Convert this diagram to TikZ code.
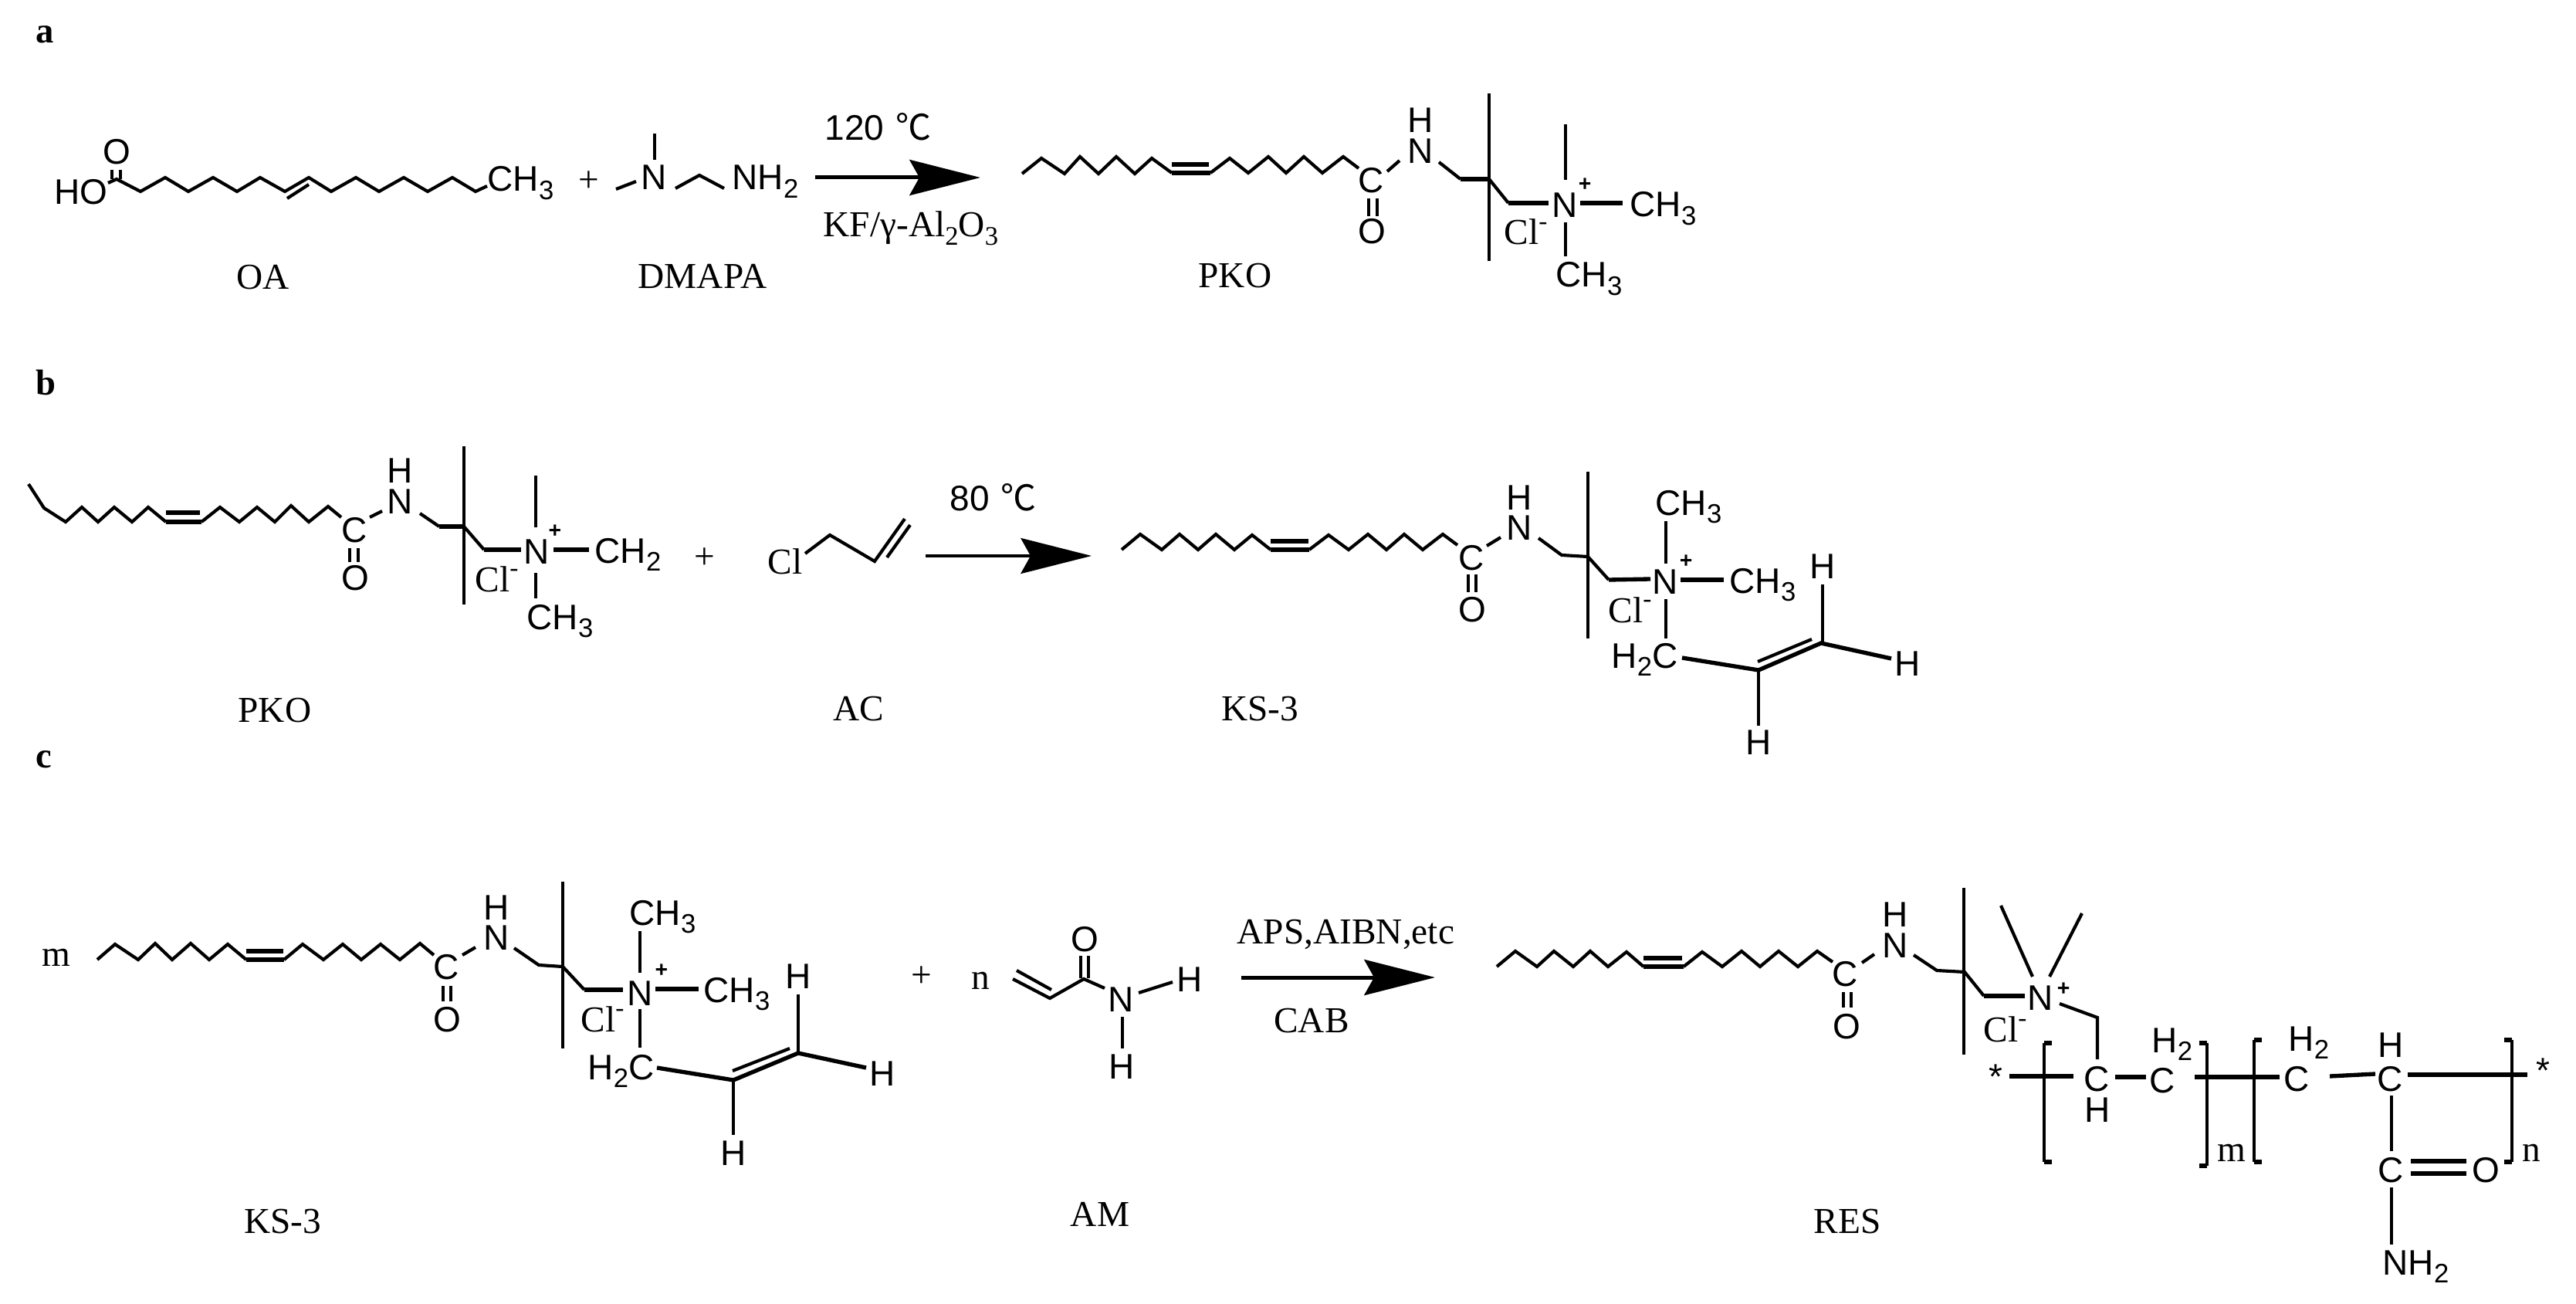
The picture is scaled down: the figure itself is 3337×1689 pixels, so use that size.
\documentclass[tikz,border=0pt]{standalone}
\usepackage{fontspec}
\usetikzlibrary{arrows.meta}
\setmainfont{Liberation Serif}
\setsansfont{Liberation Sans}
\newfontfamily\cjkf{Noto Sans CJK SC}
\newcommand{\dn}[1]{\raisebox{-0.22em}{\fontsize{10.4}{10}\selectfont #1}}
\newcommand{\up}[1]{\raisebox{0.42em}{\fontsize{10}{10}\selectfont #1}}
\newcommand{\dgc}{{\cjkf ℃}}
\tikzset{
 bond/.style={line width=1.25pt,black},
 hbond/.style={line width=1.6pt,black},
 thinb/.style={line width=0.95pt,black},
 atom/.style={font=\sffamily\fontsize{13.8}{14}\selectfont,anchor=base,inner sep=0pt,black},
 atoml/.style={atom,anchor=base west},
 lab/.style={font=\rmfamily\fontsize{14.2}{14}\selectfont,anchor=base,inner sep=0pt,black},
 labl/.style={lab,anchor=base west},
 panel/.style={font=\rmfamily\bfseries\fontsize{14}{14}\selectfont,anchor=base west,inner sep=0pt,black},
 plusb/.style={font=\sffamily\bfseries\fontsize{8.5}{9}\selectfont,anchor=center,inner sep=0pt,black},
 react/.style={line width=1.5pt,-{Stealth[length=27.5pt,width=13.8pt,inset=3.8pt]}},
 reactb/.style={line width=1.1pt,-{Stealth[length=27.5pt,width=13.8pt,inset=3.8pt]}},
}
\begin{document}
\begin{tikzpicture}[x=0.3pt,y=-0.3pt]
\useasboundingbox (0,0) rectangle (3337,1689);
% ---------- panel a
\node[panel] (pa) at (46,56) {a};
\node[atoml] (aHO) at (70,265) {HO};
\node[atom] (aO1) at (151,213) {O};
\node[atoml] (aCH3) at (631,248) {CH\dn{3}};
\node[lab] (aplus) at (763,249) {+};
\node[atom] (aN1) at (847,246) {N};
\node[atoml] (aNH2) at (948,246) {NH\dn{2}};
\node[lab] (aOA) at (341,375) {OA};
\node[lab] (aDM) at (910,374) {DMAPA};
\draw[bond] (140,237)--(151,232)--(182,248)--(214,230)--(244,248)--(276,230)--(307,248)--(337,230)--(369,248)--(400,230)--(429,248)--(461,230)--(491,248)--(523,230)--(554,248)--(586,230)--(616,248)--(631,241);
\draw[bond] (372,257)--(400,239);
\draw[bond] (145,232)--(145,220) (156,232)--(156,220);
\draw[bond] (798,245)--(824,235);
\draw[thinb] (848,173)--(848,207);
\draw[bond] (875,244)--(906,227)--(938,244);
\coordinate (aA1) at (1056,230); \coordinate (aA2) at (1270,230);
\draw[react] (aA1)--(aA2);
\node[atoml] (aT) at (1068,182) {120\hspace{0.32em}\dgc};
\node[labl] (aKF) at (1066,307) {KF/γ-Al\dn{2}O\dn{3}};
% PKO product
\draw[bond] (1324,225)--(1349,205)--(1379,225)--(1399,203)--(1423,225)--(1446,203)--(1470,225)--(1492,205)--(1518,224);
\draw[hbond] (1518,224)--(1568,224) (1518,213)--(1566,213);
\draw[bond] (1568,224)--(1593,205)--(1617,224)--(1643,203)--(1666,224)--(1689,203)--(1713,224)--(1740,203)--(1760,218);
\node[atom] (a2C) at (1776,250) {C};
\draw[thinb] (1773,257)--(1773,280) (1784,257)--(1784,280);
\node[atom] (a2O) at (1777,316) {O};
\draw[bond] (1797,222)--(1813,208);
\node[atom] (a2N) at (1840,212) {N};
\node[atom] (a2H) at (1840,172) {H};
\draw[bond] (1864,210)--(1892,232);
\draw[hbond] (1892,232)--(1929,232);
\draw[bond] (1929,232)--(1954,263);
\draw[hbond] (1954,263)--(2006,263);
\draw[bond] (1929,121)--(1929,338);
\node[atom] (a2Np) at (2027,282) {N};
\node[plusb] (a2pl) at (2053,239) {+};
\draw[thinb] (2028,161)--(2028,233) (2028,288)--(2028,332);
\draw[hbond] (2047,263)--(2102,263);
\node[atoml] (a2CH3a) at (2111,281) {CH\dn{3}};
\node[atoml] (a2CH3b) at (2015,372) {CH\dn{3}};
\node[labl] (a2Cl) at (1948,317) {Cl\up{-}};
\node[lab] (a2PKO) at (1600,373) {PKO};
% ---------- panel b
\node[panel] (pb) at (46,511) {b};
\draw[bond] (37,627)--(57,658)--(85,676)--(106,657)--(127,676)--(148,657)--(171,676)--(192,657)--(215,676);
\draw[hbond] (215,676)--(261,676) (215,664)--(259,664);
\draw[bond] (261,676)--(285,657)--(310,676)--(333,657)--(356,676)--(377,655)--(400,676)--(425,656)--(442,670);
\node[atom] (b1C) at (459,702) {C};
\draw[thinb] (453,710)--(453,728) (464,710)--(464,728);
\node[atom] (b1O) at (460,764) {O};
\draw[bond] (479,670)--(495,662);
\node[atom] (b1N) at (518,665) {N};
\node[atom] (b1H) at (518,625) {H};
\draw[bond] (544,665)--(569,682);
\draw[hbond] (569,682)--(601,682);
\draw[bond] (601,682)--(627,712);
\draw[hbond] (627,712)--(675,712);
\draw[thinb] (601,578)--(601,783);
\node[atom] (b1Np) at (695,730) {N};
\node[plusb] (b1pl) at (719,688) {+};
\draw[thinb] (694,616)--(694,683) (694,742)--(694,775);
\draw[hbond] (717,712)--(763,712);
\node[atoml] (b1CH2) at (770,729) {CH\dn{2}};
\node[atoml] (b1CH3) at (682,815) {CH\dn{3}};
\node[labl] (b1Cl) at (615,766) {Cl\up{-}};
\node[lab] (bplus) at (913,736) {+};
\node[labl] (bCl) at (994,743) {Cl};
\draw[bond] (1043,717)--(1075,693)--(1133,727)--(1172,672);
\draw[bond] (1149,722)--(1179,680);
\coordinate (bA1) at (1199,720); \coordinate (bA2) at (1414,720);
\draw[reactb] (bA1)--(bA2);
\node[atoml] (bT) at (1230,661) {80\hspace{0.32em}\dgc};
\node[lab] (bPKO) at (356,935) {PKO};
\node[lab] (bAC) at (1112,933) {AC};
% KS-3 in b
\draw[bond] (1453,712)--(1477,692)--(1505,712)--(1528,692)--(1552,712)--(1575,692)--(1599,712)--(1622,693)--(1646,712);
\draw[hbond] (1646,712)--(1696,712) (1646,701)--(1695,701);
\draw[bond] (1696,712)--(1721,693)--(1747,712)--(1772,692)--(1796,712)--(1819,692)--(1843,712)--(1869,692)--(1888,706);
\node[atom] (b2C) at (1906,738) {C};
\draw[thinb] (1902,744)--(1902,767) (1912,744)--(1912,767);
\node[atom] (b2O) at (1907,805) {O};
\draw[bond] (1926,707)--(1944,696);
\node[atom] (b2N) at (1968,699) {N};
\node[atom] (b2H) at (1968,660) {H};
\draw[bond] (1993,697)--(2023,719)--(2057,721)--(2084,751);
\draw[hbond] (2084,751)--(2138,750);
\draw[bond] (2057,611)--(2057,827);
\node[atom] (b2Np) at (2157,769) {N};
\node[plusb] (b2pl) at (2184,727) {+};
\draw[thinb] (2158,675)--(2158,730) (2158,776)--(2158,827);
\node[atoml] (b2CH3a) at (2144,667) {CH\dn{3}};
\draw[hbond] (2177,751)--(2233,751);
\node[atoml] (b2CH3b) at (2240,768) {CH\dn{3}};
\node[atoml] (b2H2C) at (2087,865) {H\dn{2}C};
\node[labl] (b2Cl) at (2083,806) {Cl\up{-}};
\draw[hbond] (2179,852)--(2278,868)--(2359,833)--(2450,853);
\draw[bond] (2277,857)--(2347,828);
\draw[bond] (2361,757)--(2361,833);
\draw[bond] (2278,868)--(2278,940);
\node[atom] (b2Ha) at (2361,749) {H};
\node[atom] (b2Hb) at (2471,875) {H};
\node[atom] (b2Hc) at (2278,977) {H};
\node[lab] (b2KS) at (1632,933) {KS-3};
% ---------- panel c
\node[panel] (pc) at (46,994) {c};
\node[labl] (cm) at (54,1251) {m};
\draw[bond] (126,1243)--(149,1223)--(179,1243)--(201,1222)--(223,1243)--(247,1222)--(271,1243)--(295,1223)--(319,1243);
\draw[hbond] (319,1243)--(368,1243) (319,1232)--(367,1232);
\draw[bond] (368,1243)--(392,1223)--(419,1243)--(444,1223)--(468,1243)--(493,1223)--(518,1243)--(544,1222)--(562,1237);
\node[atom] (c1C) at (578,1268) {C};
\draw[thinb] (574,1277)--(574,1297) (584,1277)--(584,1297);
\node[atom] (c1O) at (579,1336) {O};
\draw[bond] (599,1237)--(616,1227);
\node[atom] (c1N) at (643,1230) {N};
\node[atom] (c1H) at (643,1191) {H};
\draw[bond] (666,1228)--(698,1250)--(729,1252)--(757,1282);
\draw[hbond] (757,1282)--(807,1282);
\draw[bond] (729,1142)--(729,1358);
\node[atom] (c1Np) at (829,1302) {N};
\node[plusb] (c1pl) at (857,1257) {+};
\draw[thinb] (829,1206)--(829,1260) (829,1307)--(829,1357);
\node[atoml] (c1CH3a) at (815,1198) {CH\dn{3}};
\draw[hbond] (849,1281)--(905,1281);
\node[atoml] (c1CH3b) at (911,1298) {CH\dn{3}};
\node[atoml] (c1H2C) at (761,1398) {H\dn{2}C};
\node[labl] (c1Cl) at (752,1336) {Cl\up{-}};
\draw[hbond] (851,1383)--(950,1399)--(1034,1364)--(1122,1383);
\draw[bond] (949,1387)--(1023,1358);
\draw[bond] (1034,1288)--(1034,1364);
\draw[bond] (950,1399)--(950,1470);
\node[atom] (c1Ha) at (1034,1280) {H};
\node[atom] (c1Hb) at (1143,1406) {H};
\node[atom] (c1Hc) at (950,1509) {H};
\node[lab] (c1KS) at (366,1597) {KS-3};
\node[lab] (cplus) at (1194,1278) {+};
\node[labl] (cn) at (1258,1281) {n};
\draw[bond] (1312,1268)--(1360,1293)--(1404,1268)--(1431,1280);
\draw[bond] (1317,1257)--(1362,1282);
\draw[bond] (1400,1238)--(1400,1267) (1410,1238)--(1410,1267);
\node[atom] (cAO) at (1405,1232) {O};
\node[atom] (cAN) at (1452,1310) {N};
\draw[bond] (1475,1286)--(1519,1272);
\node[atom] (cAHa) at (1541,1284) {H};
\draw[bond] (1454,1317)--(1454,1358);
\node[atom] (cAHb) at (1453,1397) {H};
\node[lab] (cAM) at (1425,1588) {AM};
\coordinate (cA1) at (1608,1266); \coordinate (cA2) at (1859,1266);
\draw[react] (cA1)--(cA2);
\node[labl] (cAPS) at (1602,1222) {APS,AIBN,etc};
\node[lab] (cCAB) at (1699,1337) {CAB};
% RES
\draw[bond] (1939,1252)--(1963,1232)--(1991,1252)--(2013,1232)--(2038,1252)--(2060,1232)--(2083,1252)--(2107,1233)--(2129,1252);
\draw[hbond] (2129,1252)--(2181,1252) (2129,1241)--(2179,1241);
\draw[bond] (2181,1252)--(2205,1233)--(2231,1252)--(2256,1232)--(2280,1252)--(2304,1232)--(2329,1252)--(2354,1232)--(2374,1246);
\node[atom] (rC) at (2390,1277) {C};
\draw[thinb] (2388,1285)--(2388,1305) (2398,1285)--(2398,1305);
\node[atom] (rO) at (2392,1345) {O};
\draw[bond] (2412,1247)--(2428,1236);
\node[atom] (rN) at (2455,1240) {N};
\node[atom] (rH) at (2455,1200) {H};
\draw[bond] (2479,1237)--(2509,1257)--(2545,1259)--(2570,1290);
\draw[hbond] (2570,1290)--(2623,1290);
\draw[bond] (2544,1150)--(2544,1366);
\node[atom] (rNp) at (2643,1308) {N};
\node[plusb] (rpl) at (2673,1281) {+};
\draw[bond] (2592,1173)--(2633,1265) (2697,1183)--(2655,1265);
\draw[bond] (2668,1300)--(2717,1318)--(2717,1372);
\node[labl] (rCl) at (2569,1349) {Cl\up{-}};
\node[atom] (rs1) at (2585,1410) {*};
\draw[hbond] (2603,1394)--(2686,1394);
\draw[thinb] (2648,1351)--(2648,1505);
\draw[hbond] (2658,1351)--(2648,1351) (2648,1505)--(2658,1505);
\node[atom] (rC1) at (2716,1413) {C};
\node[atom] (rH1) at (2717,1453) {H};
\draw[hbond] (2740,1395)--(2780,1395);
\node[atom] (rC2) at (2801,1415) {C};
\node[atoml] (rH2a) at (2787,1363) {H\dn{2}};
\draw[hbond] (2843,1395)--(2953,1395);
\draw[thinb] (2859,1351)--(2859,1510);
\draw[hbond] (2849,1351)--(2859,1351) (2859,1510)--(2849,1510);
\node[labl] (rm) at (2872,1504) {m};
\draw[thinb] (2920,1347)--(2920,1505);
\draw[hbond] (2930,1347)--(2920,1347) (2920,1505)--(2930,1505);
\node[atoml] (rH2b) at (2964,1361) {H\dn{2}};
\node[atom] (rC3) at (2975,1413) {C};
\draw[hbond] (3018,1394)--(3077,1391);
\node[atom] (rC4) at (3096,1413) {C};
\node[atom] (rH4) at (3097,1369) {H};
\draw[hbond] (3119,1392)--(3274,1392);
\draw[thinb] (3254,1347)--(3254,1505);
\draw[hbond] (3244,1347)--(3254,1347) (3254,1505)--(3244,1505);
\node[atom] (rs2) at (3294,1402) {*};
\draw[thinb] (3098,1419)--(3098,1491);
\node[atom] (rC5) at (3097,1531) {C};
\draw[hbond] (3123,1504)--(3195,1504) (3123,1520)--(3195,1520);
\node[atom] (rO5) at (3220,1531) {O};
\node[labl] (rn) at (3267,1504) {n};
\draw[thinb] (3098,1538)--(3098,1612);
\node[atoml] (rNH2) at (3086,1651) {NH\dn{2}};
\node[lab] (rRES) at (2393,1597) {RES};
\end{tikzpicture}
\end{document}
